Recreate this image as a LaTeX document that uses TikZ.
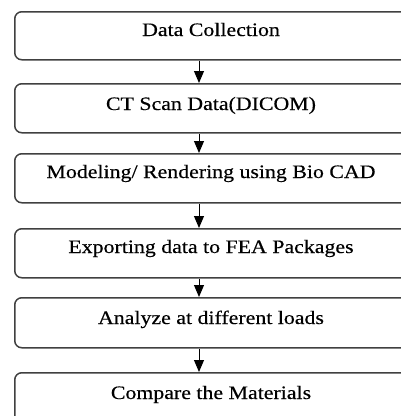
\documentclass[tikz,border=0pt]{standalone}
\usepackage{fontspec}
\setmainfont{Liberation Serif}[FakeStretch=1.15,FakeBold=0.4]
\usetikzlibrary{arrows.meta}

\tikzset{
  stage/.style={draw=black!75, line width=1.5pt, rounded corners=7pt,
    minimum width=395pt, inner sep=0pt, fill=white},
  stagetext/.style={anchor=base, inner sep=0pt, font=\fontsize{19}{22}\selectfont},
  flow/.style={draw=black, line width=1pt, -{Triangle[length=12pt,width=10pt]}},
}

\begin{document}
\begin{tikzpicture}[x=1pt,y=-1pt]
  \useasboundingbox (0,0) rectangle (401,416);
  \begin{scope}
    \clip (0,0) rectangle (401,416);

    % process stages (top edge, height)
    \node[stage, minimum height=48pt, anchor=north west] (s1) at (14,11) {};
    \node[stage, minimum height=49pt, anchor=north west] (s2) at (14,83) {};
    \node[stage, minimum height=49pt, anchor=north west] (s3) at (14,153) {};
    \node[stage, minimum height=49pt, anchor=north west] (s4) at (14,228) {};
    \node[stage, minimum height=50pt, anchor=north west] (s5) at (14,297) {};
    \node[stage, minimum height=60pt, anchor=north west] (s6) at (14,372) {};

    % stage captions
    \node[stagetext] (t1) at (211,36)  {Data Collection};
    \node[stagetext] (t2) at (211,110) {CT Scan Data(DICOM)};
    \node[stagetext] (t3) at (211,178) {Modeling/ Rendering using Bio CAD};
    \node[stagetext] (t4) at (211,253) {Exporting data to FEA Packages};
    \node[stagetext] (t5) at (211,324) {Analyze at different loads};
    \node[stagetext] (t6) at (211,399) {Compare the Materials};

    % connectors between consecutive stages
    \foreach \a/\b in {s1/s2, s2/s3, s3/s4, s4/s5, s5/s6}{
      \draw[flow] (\a.south west -| 199,0) -- (\b.north west -| 199,0);
    }
  \end{scope}
\end{tikzpicture}
\end{document}
